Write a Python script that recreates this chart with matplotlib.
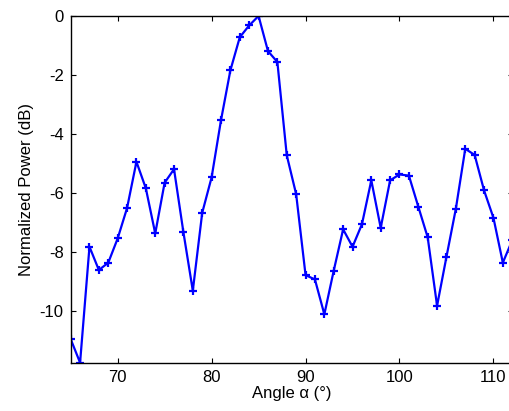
import matplotlib
matplotlib.use("Agg")
import matplotlib.pyplot as plt

angles = list(range(65, 113))
power_db = [-10.95, -11.75, -7.82, -8.61, -8.36, -7.54, -6.51, -4.94, -5.84, -7.37,
            -5.65, -5.19, -7.33, -9.31, -6.67, -5.47, -3.53, -1.84, -0.72, -0.32,
            0.0, -1.19, -1.56, -4.72, -6.04, -8.78, -8.93, -10.11, -8.63, -7.23,
            -7.82, -7.06, -5.57, -7.18, -5.57, -5.37, -5.41, -6.46, -7.50, -9.82,
            -8.16, -6.53, -4.50, -4.71, -5.91, -6.84, -8.36, -7.60]
xticks = [70, 80, 90, 100, 110]
yticks = [-10, -8, -6, -4, -2, 0]

plt.rcParams['font.family'] = ['Liberation Sans', 'DejaVu Sans']
plt.rcParams['axes.unicode_minus'] = False
fig = plt.figure(figsize=(5.10, 4.11), dpi=100)
ax = fig.add_axes([0.1386, 0.1175, 0.8667, 0.8436])
ax.plot(angles, power_db, color=(0, 0, 1), lw=1.6, marker='+', ms=6, mew=1.6, clip_on=True)
ax.set_xlim(65, 112.05)
ax.set_ylim(-11.75, 0)
ax.set_xticks(xticks)
ax.set_yticks(yticks)
ax.tick_params(direction='in', top=True, right=True, length=3.6, width=0.8, labelsize=12, pad=5)
for s in ax.spines.values():
    s.set_linewidth(1.0)
ax.spines['right'].set_visible(False)
ax.set_xlabel('Angle α (°)', fontsize=12, labelpad=1)
ax.set_ylabel('Normalized Power (dB)', fontsize=12, labelpad=4)
fig.savefig('out.png', dpi=100)
